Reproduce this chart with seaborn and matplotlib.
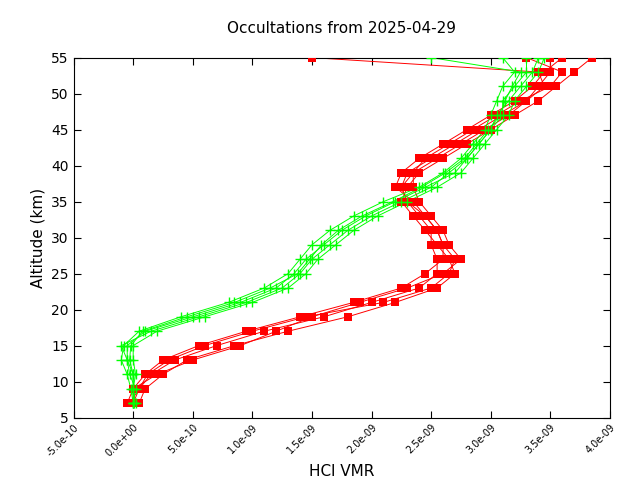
import matplotlib
matplotlib.use("Agg")
import matplotlib.pyplot as plt
import matplotlib.ticker as mt
import seaborn as sns
import pandas as pd

alt = [7, 9, 11, 13, 15, 17, 19, 21, 23, 25, 27, 29, 31, 33, 35, 37, 39, 41, 43, 45, 47, 49, 51, 53, 55]

# HCl VMR in units of 1e-9
red_profiles = [
    [0.00, 0.05, 0.15, 0.35, 0.70, 1.10, 1.60, 2.00, 2.40, 2.55, 2.55, 2.50, 2.50, 2.40, 2.30, 2.25, 2.30, 2.50, 2.70, 2.90, 3.10, 3.30, 3.40, 3.50, 3.50],
    [-0.05, 0.00, 0.10, 0.25, 0.55, 0.95, 1.40, 1.85, 2.25, 2.45, 2.60, 2.60, 2.55, 2.45, 2.35, 2.20, 2.25, 2.40, 2.60, 2.80, 3.00, 3.20, 3.35, 3.45, 3.60],
    [0.05, 0.10, 0.25, 0.45, 0.85, 1.30, 1.80, 2.20, 2.55, 2.70, 2.65, 2.55, 2.45, 2.35, 2.25, 2.30, 2.40, 2.60, 2.80, 3.00, 3.20, 3.40, 3.55, 3.70, 3.85],
    [0.00, 0.00, 0.20, 0.50, 0.90, 1.20, 1.50, 1.90, 2.30, 2.60, 2.75, 2.65, 2.60, 2.50, 2.40, 2.35, 2.35, 2.45, 2.65, 2.85, 3.05, 3.25, 3.50, 3.60, 3.30],
    [-0.03, 0.05, 0.12, 0.30, 0.60, 1.00, 1.45, 2.10, 2.50, 2.65, 2.70, 2.60, 2.55, 2.45, 2.30, 2.25, 2.35, 2.55, 2.75, 2.95, 3.15, 3.30, 3.45, 3.40, 1.50],
]
green_profiles = [
    [0.00, 0.00, 0.00, -0.05, -0.05, 0.10, 0.50, 0.90, 1.20, 1.35, 1.45, 1.60, 1.75, 1.95, 2.20, 2.45, 2.70, 2.80, 2.90, 3.00, 3.10, 3.10, 3.20, 3.30, 3.30],
    [0.00, -0.02, -0.05, -0.10, -0.08, 0.05, 0.40, 0.80, 1.10, 1.30, 1.40, 1.50, 1.65, 1.85, 2.10, 2.40, 2.60, 2.75, 2.85, 2.95, 3.00, 3.05, 3.10, 3.20, 3.10],
    [0.02, 0.00, 0.02, 0.00, 0.00, 0.20, 0.60, 1.00, 1.30, 1.45, 1.55, 1.70, 1.85, 2.05, 2.30, 2.55, 2.75, 2.85, 2.95, 3.05, 3.15, 3.20, 3.30, 3.40, 3.45],
    [0.00, 0.02, -0.03, -0.05, -0.10, 0.15, 0.55, 0.95, 1.25, 1.40, 1.50, 1.65, 1.80, 2.00, 2.25, 2.50, 2.65, 2.80, 2.90, 3.00, 3.05, 3.15, 3.25, 3.35, 3.40],
    [0.01, 0.00, 0.00, -0.03, -0.02, 0.08, 0.45, 0.85, 1.15, 1.38, 1.48, 1.58, 1.72, 1.92, 2.18, 2.42, 2.62, 2.78, 2.88, 2.98, 3.08, 3.12, 3.18, 3.25, 2.50],
]

def frame(profiles):
    rows = []
    for i, p in enumerate(profiles):
        for a, v in zip(alt, p):
            rows.append({"prof": i, "alt": a, "vmr": v * 1e-9})
    return pd.DataFrame(rows)

fig, ax = plt.subplots(figsize=(6.4, 4.8), dpi=100)
fig.subplots_adjust(left=0.115, right=0.953, top=0.88, bottom=0.13)

dr = frame(red_profiles)
dg = frame(green_profiles)

for i in range(len(red_profiles)):
    sns.lineplot(data=dr[dr.prof == i], x="vmr", y="alt", estimator=None, sort=False,
                 color="red", linewidth=0.7, ax=ax)
sns.scatterplot(data=dr, x="vmr", y="alt", color="red", marker="s", s=40,
                linewidth=0, ax=ax, zorder=3)
for i in range(len(green_profiles)):
    sns.lineplot(data=dg[dg.prof == i], x="vmr", y="alt", estimator=None, sort=False,
                 color="#00ff00", linewidth=0.7, ax=ax)
sns.scatterplot(data=dg, x="vmr", y="alt", color="#00ff00", marker="+", s=45,
                linewidth=1, ax=ax, zorder=4)

ax.set_xlim(-5e-10, 4e-9)
ax.set_ylim(5, 55)
ax.set_xticks([i * 5e-10 for i in range(-1, 9)])
ax.xaxis.set_major_formatter(mt.FormatStrFormatter("%.1e"))
ax.set_yticks(range(5, 56, 5))
ax.tick_params(direction="in", top=True, right=True, length=5)
for lab in ax.get_xticklabels():
    lab.set_rotation(45)
    lab.set_fontsize(7)
    lab.set_ha("right")
    lab.set_rotation_mode("anchor")
ax.tick_params(axis="y", labelsize=10)
ax.set_xlabel("HCl VMR", fontsize=11)
ax.set_ylabel("Altitude (km)", fontsize=11)
ax.set_title("Occultations from 2025-04-29", fontsize=11, pad=18)
fig.savefig("out.png")
